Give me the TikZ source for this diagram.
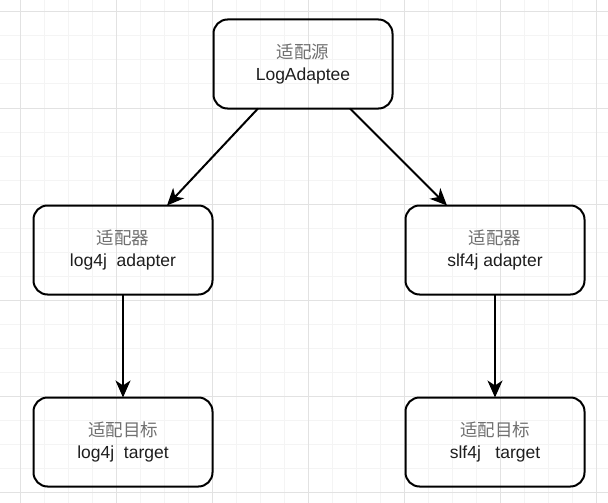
\documentclass[tikz,border=0pt]{standalone}
\usepackage{fontspec}
\setmainfont{Liberation Sans}
\newfontfamily\cjk{Noto Sans CJK SC}
\usetikzlibrary{arrows.meta,calc}
\definecolor{minorgrid}{HTML}{F4F4F4}
\definecolor{majorgrid}{HTML}{E2E2E2}
\definecolor{cjkgray}{HTML}{707070}
\definecolor{txt}{HTML}{1E1E1E}
\tikzset{
  box/.style={draw=black, line width=2pt, rounded corners=14pt, fill=none,
    minimum width=179pt, minimum height=89pt, inner sep=0pt, outer sep=0pt,
    align=center, text=txt, font=\fontsize{17.5}{21.5}\selectfont},
  conn/.style={line width=2pt, -{Stealth[length=17pt,width=15pt,inset=5pt]}},
}
\newcommand{\zh}[1]{{\cjk\color{cjkgray}#1}}
\begin{document}
\begin{tikzpicture}[x=1pt,y=-1pt]
\useasboundingbox (0,0) rectangle (608,503);
\fill[white] (0,0) rectangle (608,503);
% grid
\foreach \x in {20,44,...,600} \draw[minorgrid,line width=1pt] (\x,0) -- (\x,503);
\foreach \y in {12,36,...,503} \draw[minorgrid,line width=1pt] (0,\y) -- (608,\y);
\foreach \x in {20,116,...,600} \draw[majorgrid,line width=1pt] (\x,0) -- (\x,503);
\foreach \y in {12,108,...,503} \draw[majorgrid,line width=1pt] (0,\y) -- (608,\y);
% nodes
\node[box] (top) at (303,64) {\zh{适配源}\\LogAdaptee};
\node[box] (lm) at (123,250) {\zh{适配器}\\log4j\ \ adapter};
\node[box] (rm) at (495,250) {\zh{适配器}\\slf4j adapter};
\node[box] (lb) at (123,442) {\zh{适配目标}\\log4j\ \ target};
\node[box] (rb) at (495,442) {\zh{适配目标}\\slf4j\ \ \ target};
% connectors
\draw[conn] ([xshift=-45pt]top.south) -- ([xshift=44pt]lm.north);
\draw[conn] ([xshift=47pt]top.south) -- ([xshift=-48pt]rm.north);
\draw[conn] (lm.south) -- (lb.north);
\draw[conn] (rm.south) -- (rb.north);
\end{tikzpicture}
\end{document}
